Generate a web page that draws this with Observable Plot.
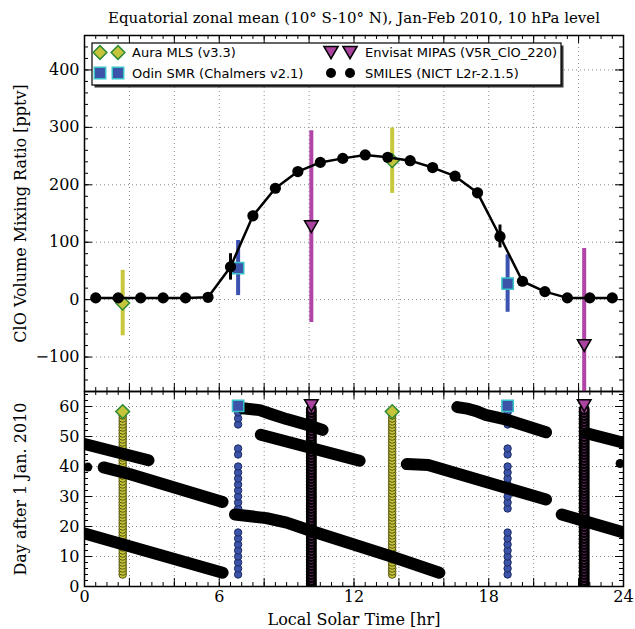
<!DOCTYPE html>
<html><head><meta charset="utf-8">
<script src="https://cdn.jsdelivr.net/npm/d3@7"></script>
<script src="https://cdn.jsdelivr.net/npm/@observablehq/plot@0.6"></script>
<style>
body{margin:0;background:#fff;}
#wrap{position:relative;width:635px;height:629px;overflow:hidden;background:#fff;}
#wrap svg{position:absolute;left:0;display:block;overflow:visible;}
</style></head><body><div id="wrap"></div>
<script>
// ---------- DATA ----------
const titleText = "Equatorial zonal mean (10° S-10° N), Jan-Feb 2010, 10 hPa level";
const xLabel = "Local Solar Time [hr]";
const yLabelTop = "ClO Volume Mixing Ratio [pptv]";
const yLabelBottom = "Day after 1 Jan. 2010";
const legendNames = ["Aura MLS (v3.3)", "Odin SMR (Chalmers v2.1)", "Envisat MIPAS (V5R_ClO_220)", "SMILES (NICT L2r-2.1.5)"];

const hourLabels = [0, 6, 12, 18, 24];
const hourGrid = [2, 4, 6, 8, 10, 12, 14, 16, 18, 20, 22];
const clOTicks = [-100, 0, 100, 200, 300, 400];
const dayTicks = [0, 10, 20, 30, 40, 50, 60];
const dayGrid = [10, 20, 30, 40, 50, 60];

// top panel: ClO [pptv]
const smilesHour = [0.5,1.5,2.5,3.5,4.5,5.5,6.5,7.5,8.5,9.5,10.5,11.5,12.5,13.5,14.5,15.5,16.5,17.5,18.5,19.5,20.5,21.5,22.5,23.5];
const smilesClO  = [3,3,3,3,3,4,57,146,194,223,239,246,252,248,242,230,215,186,110,32,14,3,3,3];
const smilesErr  = [3,3,3,3,3,3,23,8,6,5,5,5,5,5,5,6,7,8,20,6,4,3,3,3];
const mlsHour = [1.7, 13.7];   const mlsClO = [-6, 242];  const mlsErr = [57, 57];
const smrHour = [6.84, 18.84]; const smrClO = [55, 28];   const smrErr = [48, 50];
const mipasHour = [10.1, 22.25]; const mipasClO = [127, -80]; const mipasErr = [167, 169];

// bottom panel: sampling days
const mlsDays = [4,5,6,7,8,9,10,11,12,13,14,15,16,17,18,19,20,21,22,23,24,25,26,27,28,29,30,31,32,33,34,35,36,37,38,39,40,41,42,43,44,45,46,47,48,49,50,51,52,53,54,55,56,57];
const smrDays = [4,6,8,10,12,14,16,18,26,28,30,32,34,36,38,40,44,46,54,56,58];
const mipasDays = [0,1,2,3,4,5,6,7,8,9,10,11,12,13,14,15,16,17,18,19,20,21,22,23,24,25,26,27,28,29,30,31,32,33,34,35,36,37,38,39,40,41,42,43,44,45,46,47,48,49,50,51,52,53,54,55,56,57,58,59];
const mlsMarkDay = 58.3, smrMarkDay = 60.2, mipasMarkDay = 60.3;
// SMILES sampling stripes (local time, day)
const stripeSeg  = [1,1, 2,2,2, 3,3, 4,4,4,4,4,4, 5,5,5,5,5,5, 6,6, 7,7,7, 8,8,8,8,8,8, 9,9, 10,10];
const stripeHour = [0,2.85, 0.85,2.0,6.15, 0,6.15, 6.7,8.1,9.0,10.1,13.7,15.8, 7.05,7.8,8.3,9.0,9.9,10.6, 7.85,12.25, 14.35,15.3,20.55, 16.6,17.1,17.5,17.9,18.8,20.55, 21.25,24, 22.4,24];
const stripeDay  = [47.5,42.1, 39.7,37.5,28.2, 17.7,4.6, 24.0,22.8,21.3,18.5,9.9,4.6, 59.4,58.8,57.5,55.8,53.9,52.2, 50.6,41.9, 40.8,40.5,29.0, 59.8,59.2,58.3,57.1,55.6,51.4, 24.0,18.0, 51.0,47.9];
const blobHour = [0.15, 23.85];
const blobDay  = [39.8, 41.0];

// ---------- STYLE ----------
const C = {
  mlsFill: "#c6c43a", mlsEdge: "#2f8a35", mlsBar: "#c8c83c", mlsColEdge: "#55540f",
  smrFill: "#3b53a8", smrEdge: "#38c4c8", smrBar: "#3b52b0", smrColEdge: "#1b2a60",
  mipasFill: "#aa42a0", mipasBar: "#b045a8"
};
const serif = "'DejaVu Serif', serif";
const gridStyle = {stroke: "#8c8c8c", strokeOpacity: 1, strokeWidth: 1, strokeDasharray: "1,3"};
const W = 635, ML = 84, MR = 12;
const FW = W - ML - MR;

const toRows = (h, v, e) => h.map((x, i) => ({hour: x, v: v[i], lo: v[i] - (e ? e[i] : 0), hi: v[i] + (e ? e[i] : 0)}));
const smiles = toRows(smilesHour, smilesClO, smilesErr);
const mls = toRows(mlsHour, mlsClO, mlsErr);
const smr = toRows(smrHour, smrClO, smrErr);
const mipas = toRows(mipasHour, mipasClO, mipasErr);

function frameTicks(major, minor, majorY, minorY, FH) {
  const s = {stroke: "black", strokeWidth: 1};
  return [
    Plot.tickX(major, {...s, insetTop: FH - 8}),
    Plot.tickX(major, {...s, insetBottom: FH - 8}),
    Plot.tickX(minor, {...s, insetTop: FH - 4}),
    Plot.tickX(minor, {...s, insetBottom: FH - 4}),
    Plot.tickY(majorY, {...s, insetRight: FW - 8}),
    Plot.tickY(majorY, {...s, insetLeft: FW - 8}),
    Plot.tickY(minorY, {...s, insetRight: FW - 4}),
    Plot.tickY(minorY, {...s, insetLeft: FW - 4})
  ];
}
const minorHours = d3.range(0, 24.001, 0.5);
const majorHours = d3.range(0, 24.001, 2);

// ---------- TOP PANEL ----------
const topH = 391, topMT = 35;
const topFH = topH - topMT;
const topPlot = Plot.plot({
  width: W, height: topH, marginTop: topMT, marginBottom: 0, marginLeft: ML, marginRight: MR,
  x: {domain: [0, 24], axis: null}, y: {domain: [-160, 460], axis: null},
  style: {fontFamily: serif, fontSize: "16px", color: "black", background: "transparent", overflow: "visible"},
  marks: [
    Plot.gridX(hourGrid, gridStyle),
    Plot.gridY(clOTicks, gridStyle),
    Plot.ruleX(mls, {x: "hour", y1: "lo", y2: "hi", stroke: C.mlsBar, strokeWidth: 4, clip: true}),
    Plot.dot(mls, {x: "hour", y: "v", symbol: "diamond2", r: 6.2, fill: C.mlsFill, stroke: C.mlsEdge, strokeWidth: 1.5}),
    Plot.ruleX(smr, {x: "hour", y1: "lo", y2: "hi", stroke: C.smrBar, strokeWidth: 4, clip: true}),
    Plot.dot(smr, {x: "hour", y: "v", symbol: "square", r: 6.4, fill: C.smrFill, stroke: C.smrEdge, strokeWidth: 1.5}),
    Plot.ruleX(mipas, {x: "hour", y1: "lo", y2: "hi", stroke: C.mipasBar, strokeWidth: 4, clip: true}),
    Plot.dot(mipas, {x: "hour", y: "v", symbol: "triangle2", rotate: 180, dy: -2, r: 6.5, fill: C.mipasFill, stroke: "black", strokeWidth: 1.5}),
    Plot.line(smiles, {x: "hour", y: "v", stroke: "black", strokeWidth: 2.5}),
    Plot.ruleX(smiles, {x: "hour", y1: "lo", y2: "hi", stroke: "black", strokeWidth: 3}),
    Plot.dot(smiles, {x: "hour", y: "v", r: 5.6, fill: "black"}),
    Plot.frame({stroke: "black", strokeWidth: 1.5}),
    ...frameTicks(majorHours, minorHours, clOTicks, d3.range(-160, 461, 20), topFH),
    Plot.axisY(clOTicks, {anchor: "left", tickSize: 0, tickPadding: 5, label: null, fontSize: 16}),
    Plot.text([titleText], {frameAnchor: "top", lineAnchor: "middle", textAnchor: "middle", dy: -17, fontSize: 15, fontFamily: serif}),
    Plot.text([yLabelTop], {frameAnchor: "left", textAnchor: "middle", lineAnchor: "middle", dx: -64, rotate: -90, fontSize: 16, fontFamily: serif})
  ]
});
topPlot.style.top = "0px";

// legend (layout only)
{
  const g = d3.select(topPlot).append("g").attr("text-anchor", "start");
  const bx = 92, by = 43, bw = 469, bh = 42;
  g.append("rect").attr("x", bx + 2.5).attr("y", by + 2.5).attr("width", bw).attr("height", bh).attr("fill", "#333");
  g.append("rect").attr("x", bx).attr("y", by).attr("width", bw).attr("height", bh).attr("fill", "white").attr("stroke", "black").attr("stroke-width", 1.2);
  const rows = [52.5, 73];
  const entries = [
    {name: legendNames[0], col: 0, row: 0, sym: d3.symbolDiamond2, size: 120, fill: C.mlsFill, stroke: C.mlsEdge, rot: 0},
    {name: legendNames[1], col: 0, row: 1, sym: d3.symbolSquare, size: 130, fill: C.smrFill, stroke: C.smrEdge, rot: 0},
    {name: legendNames[2], col: 1, row: 0, sym: d3.symbolTriangle2, size: 145, fill: C.mipasFill, stroke: "black", rot: 180},
    {name: legendNames[3], col: 1, row: 1, sym: d3.symbolCircle, size: 78, fill: "black", stroke: "none", rot: 0}
  ];
  const mx = [[100, 118], [331, 350]], tx = [132, 365];
  for (const e of entries) {
    const y = rows[e.row];
    for (const x of mx[e.col]) {
      g.append("path").attr("d", d3.symbol(e.sym, e.size)())
        .attr("transform", `translate(${x},${y + (e.rot ? -2 : 0)}) rotate(${e.rot})`)
        .attr("fill", e.fill).attr("stroke", e.stroke).attr("stroke-width", 1.5);
    }
    g.append("text").attr("x", tx[e.col]).attr("y", y).attr("dy", "0.35em").attr("text-anchor", "start")
      .attr("font-family", "'DejaVu Sans', sans-serif").attr("font-size", 13).attr("fill", "black").text(e.name);
  }
}

// ---------- BOTTOM PANEL ----------
const botH = 238, botMB = 43;
const botFH = botH - botMB;
const colRows = (hours, days) => hours.flatMap(h => days.map(d => ({hour: h, day: d})));
const mlsCol = colRows(mlsHour, mlsDays);
const smrCol = colRows(smrHour, smrDays);
const mipasCol = colRows(mipasHour, mipasDays);
const stripes = stripeSeg.map((s, i) => ({seg: s, hour: stripeHour[i], day: stripeDay[i]}));
const blobs = blobHour.map((h, i) => ({hour: h, day: blobDay[i]}));
const marks = (hours, d) => hours.map(h => ({hour: h, day: d}));

const botPlot = Plot.plot({
  width: W, height: botH, marginTop: 0, marginBottom: botMB, marginLeft: ML, marginRight: MR,
  x: {domain: [0, 24], axis: null}, y: {domain: [0, 65], axis: null},
  style: {fontFamily: serif, fontSize: "16px", color: "black", background: "transparent", overflow: "visible"},
  marks: [
    Plot.gridX(hourGrid, gridStyle),
    Plot.gridY(dayGrid, gridStyle),
    Plot.dot(mlsCol, {x: "hour", y: "day", r: 3.8, fill: C.mlsFill, stroke: C.mlsColEdge, strokeWidth: 1, clip: true}),
    Plot.dot(smrCol, {x: "hour", y: "day", r: 3.7, fill: C.smrFill, stroke: C.smrColEdge, strokeWidth: 1, clip: true}),
    Plot.dot(mipasCol, {x: "hour", y: "day", r: 4.3, fill: C.mipasFill, stroke: "black", strokeWidth: 2.4, clip: true}),
    Plot.line(stripes, {x: "hour", y: "day", z: "seg", stroke: "black", strokeWidth: 12, strokeLinecap: "round", strokeLinejoin: "round", clip: true}),
    Plot.dot(blobs, {x: "hour", y: "day", r: 4.5, fill: "black", clip: true}),
    Plot.dot(marks(mlsHour, mlsMarkDay), {x: "hour", y: "day", symbol: "diamond2", r: 6.2, fill: C.mlsFill, stroke: C.mlsEdge, strokeWidth: 1.5}),
    Plot.dot(marks(smrHour, smrMarkDay), {x: "hour", y: "day", symbol: "square", r: 6.4, fill: C.smrFill, stroke: C.smrEdge, strokeWidth: 1.5}),
    Plot.dot(marks(mipasHour, mipasMarkDay), {x: "hour", y: "day", symbol: "triangle2", rotate: 180, dy: -2, r: 6.5, fill: C.mipasFill, stroke: "black", strokeWidth: 1.5}),
    Plot.frame({stroke: "black", strokeWidth: 1.5}),
    ...frameTicks(majorHours, minorHours, dayTicks, d3.range(0, 65, 2), botFH),
    Plot.axisY(dayTicks, {anchor: "left", tickSize: 0, tickPadding: 5, label: null, fontSize: 16}),
    Plot.axisX(hourLabels, {anchor: "bottom", tickSize: 0, tickPadding: 4, label: null, fontSize: 16}),
    Plot.text([xLabel], {frameAnchor: "bottom", lineAnchor: "middle", textAnchor: "middle", dy: 33, fontSize: 16, fontFamily: serif}),
    Plot.text([yLabelBottom], {frameAnchor: "left", textAnchor: "middle", lineAnchor: "middle", dx: -64, rotate: -90, fontSize: 16, fontFamily: serif})
  ]
});
botPlot.style.top = topH + "px";

const wrap = document.getElementById("wrap");
wrap.appendChild(botPlot);
wrap.appendChild(topPlot);
</script>
</body></html>
